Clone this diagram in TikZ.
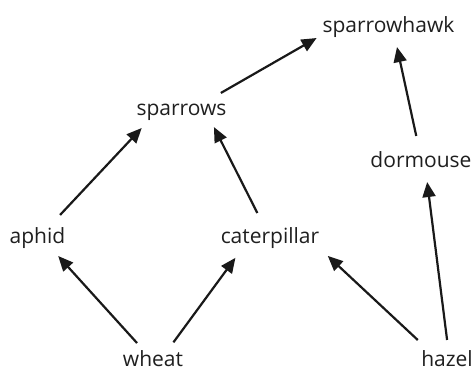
\documentclass[tikz,border=0pt]{standalone}
\usepackage{fontspec}
\setmainfont{Open Sans}
\usetikzlibrary{arrows.meta}

\begin{document}
\begin{tikzpicture}[x=1pt,y=-1pt,
    organism/.style={anchor=base,inner sep=0pt,outer sep=0pt,
      text height=16pt,text depth=5pt,text=black!88,
      font=\fontsize{21}{24}\selectfont},
    plant/.style={organism,text depth=0pt},
    eats/.style={line width=2.2pt,black!90,
      -{Triangle[length=15pt,width=13pt]}}]
\useasboundingbox (0,0) rectangle (474,372);
% who eats whom
\node [organism] (hawk) at (388.5,32) {sparrowhawk};
\node [organism] (sparrows) at (181.5,115) {sparrows};
\node [organism] (dormouse) at (421,167) {dormouse};
\node [organism] (aphid) at (37.5,243) {aphid};
\node [organism] (caterpillar) at (270,243) {caterpillar};
\node [plant] (wheat) at (153,366.5) {wheat};
\node [plant] (hazel) at (447,366.5) {hazel};
\draw [eats,shorten <=10.1pt,shorten >=10.8pt] (wheat.139) -- (aphid.-38.5);
\draw [eats,shorten <=10.1pt,shorten >=12.2pt] (wheat.29.4) -- (caterpillar.201.8);
\draw [eats,shorten <=16.5pt,shorten >=11pt] (aphid.43.2) -- (sparrows.198.2);
\draw [eats,shorten <=15.7pt,shorten >=7.9pt] (caterpillar.118.9) -- (sparrows.-20.6);
\draw [eats,shorten <=12.1pt,shorten >=6.9pt] (sparrows.20.6) -- (hawk.187);
\draw [eats,shorten <=15.4pt,shorten >=10.3pt] (dormouse.98.7) -- (hawk.-59.4);
\draw [eats,shorten <=10.6pt,shorten >=10.1pt] (hazel.80.8) -- (dormouse.-65.9);
\draw [eats,shorten <=15.4pt,shorten >=11.7pt] (hazel.156.8) -- (caterpillar.-12.2);
\end{tikzpicture}
\end{document}
